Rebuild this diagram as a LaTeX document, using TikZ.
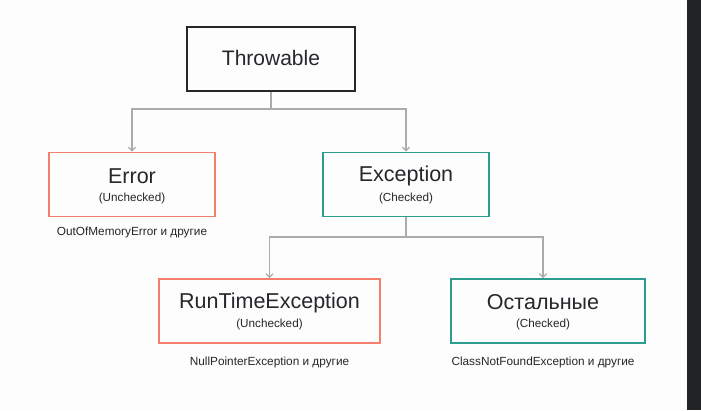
\documentclass[tikz,border=0pt]{standalone}
\usepackage{fontspec}
\setmainfont{Liberation Sans}
\usetikzlibrary{arrows.meta, positioning}

\definecolor{coral}{HTML}{F47F6B}
\definecolor{tealbox}{HTML}{2A9D8F}
\definecolor{linegray}{HTML}{ABABAB}
\definecolor{inkdark}{HTML}{25272B}
\definecolor{pagebg}{HTML}{FDFDFD}
\definecolor{stripdark}{HTML}{222327}

\begin{document}
\begin{tikzpicture}[x=1pt, y=-1pt,
    box/.style={draw, line width=1.7pt, minimum height=64pt, inner sep=0pt},
    title/.style={font=\fontsize{21.5}{24}\selectfont, text=inkdark},
    sub/.style={font=\fontsize{11.7}{13}\selectfont, text=inkdark},
    note/.style={font=\fontsize{11.8}{13}\selectfont, text=inkdark},
    link/.style={draw=linegray, line width=1.3pt, -{Straight Barb[length=3.5pt, width=7pt]}}]

    % Page and side strip
    \fill[pagebg] (0, 0) rectangle (701, 410);
    \fill[stripdark] (687, 0) rectangle (701, 410);

    % Root
    \node[box, draw=inkdark, minimum width=168pt] (throwable) at (271, 59) {};
    \node[title, font=\fontsize{21}{24}\selectfont] (throwabletitle) at ([yshift=1pt]throwable.center) {Throwable};

    % Second level
    \node[box, draw=coral, minimum width=166pt] (error) at (132, 184.5) {};
    \node[title] (errortitle) at ([yshift=8.5pt]error.center) {Error};
    \node[sub] (errorsub) at ([yshift=-14pt]error.center) {(Unchecked)};
    \node[note] (errornote) at ([yshift=-48pt]error.center) {OutOfMemoryError и другие};

    \node[box, draw=tealbox, minimum width=166pt] (exception) at (406, 184.5) {};
    \node[title] (exceptiontitle) at ([yshift=8.5pt]exception.center) {Exception};
    \node[sub] (exceptionsub) at ([yshift=-14pt]exception.center) {(Checked)};

    % Third level
    \node[box, draw=coral, minimum width=221pt] (runtime) at (269.5, 311) {};
    \node[title] (runtimetitle) at ([yshift=8.5pt]runtime.center) {RunTimeException};
    \node[sub] (runtimesub) at ([yshift=-13pt]runtime.center) {(Unchecked)};
    \node[note] (runtimenote) at ([yshift=-51pt]runtime.center) {NullPointerException и другие};

    \node[box, draw=tealbox, minimum width=194pt] (others) at (548, 311) {};
    \node[title] (otherstitle) at ([xshift=-5pt, yshift=8.5pt]others.center) {Остальные};
    \node[sub] (otherssub) at ([xshift=-5pt, yshift=-13pt]others.center) {(Checked)};
    \node[note] (othersnote) at ([xshift=-5pt, yshift=-51pt]others.center) {ClassNotFoundException и другие};

    % Connectors
    \coordinate (split1) at (271, 109);
    \coordinate (split2) at (406, 237);
    \draw[link] (throwable.south) -- (split1) -| (error.north);
    \draw[link] (split1) -| (exception.north);
    \draw[link] (exception.south) -- (split2) -| (runtime.north);
    \draw[link] (split2) -| ([xshift=-5pt]others.north);

\end{tikzpicture}
\end{document}
